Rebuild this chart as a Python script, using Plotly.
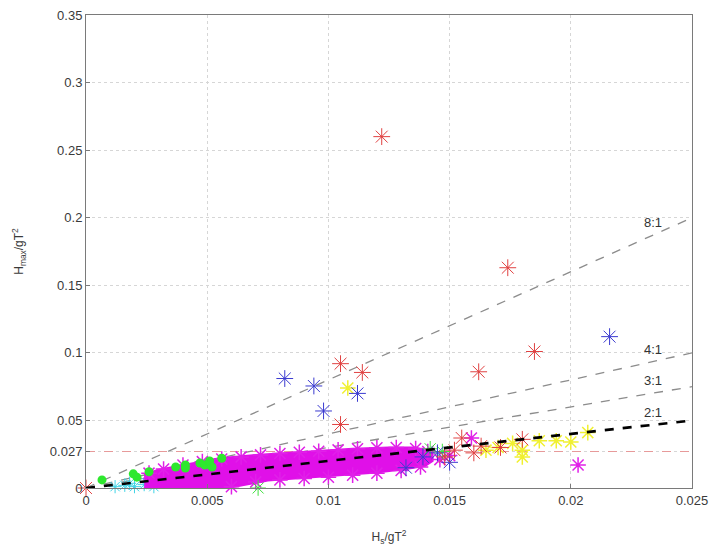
import plotly.graph_objects as go

# ---------------- data ----------------
ratio_names = ["8:1", "4:1", "3:1", "2:1"]
ratio_values = [8, 4, 3, 2]
x_end = 0.025
threshold = 0.027

# dense magenta cloud outline (Hs/gT2, Hmax/gT2)
cloud_x = [0.0024, 0.0040, 0.0060, 0.0075, 0.0090, 0.0105, 0.0120, 0.0132, 0.0140, 0.0143,
           0.0143, 0.0136, 0.0125, 0.0110, 0.0095, 0.0085, 0.0070, 0.0055, 0.0040, 0.0030, 0.0024]
cloud_y = [0.0000, 0.0000, 0.0005, 0.0055, 0.0075, 0.0090, 0.0115, 0.0140, 0.0165, 0.0200,
           0.0260, 0.0300, 0.0300, 0.0290, 0.0275, 0.0265, 0.0245, 0.0220, 0.0170, 0.0135, 0.0100]

# fuzzy magenta asterisks around the cloud edge
mag_x = [0.0026, 0.0032, 0.0040, 0.0048, 0.0056, 0.0064, 0.0072, 0.0080, 0.0088, 0.0096, 0.0104,
         0.0112, 0.0120, 0.0128, 0.0136, 0.0141, 0.0060, 0.0070, 0.0080, 0.0090, 0.0100, 0.0110,
         0.0120, 0.0130, 0.0138, 0.0159, 0.0203, 0.0150, 0.0146]
mag_y = [0.0110, 0.0140, 0.0170, 0.0195, 0.0215, 0.0230, 0.0245, 0.0255, 0.0265, 0.0272, 0.0282,
         0.0290, 0.0297, 0.0300, 0.0292, 0.0270, 0.0010, 0.0045, 0.0060, 0.0070, 0.0080, 0.0095,
         0.0110, 0.0130, 0.0155, 0.0370, 0.0170, 0.0240, 0.0210]

green_pts_x = [0.00066, 0.00195, 0.0021, 0.0026, 0.0037, 0.0041, 0.0041, 0.0047, 0.0049, 0.0051, 0.0052, 0.0056]
green_pts_y = [0.0060, 0.0105, 0.0080, 0.0120, 0.0155, 0.0170, 0.0148, 0.0185, 0.0170, 0.0200, 0.0155, 0.0220]

cyan_x = [0.0012, 0.0016, 0.0020, 0.0024, 0.0028, 0.0018, 0.0025]
cyan_y = [0.0010, 0.0020, 0.0010, 0.0025, 0.0010, 0.0035, 0.0040]

red_x = [0.0122, 0.0174, 0.0185, 0.0162, 0.0105, 0.0114, 0.0105, 0.0155, 0.0180, 0.0171, 0.0160,
         0.0152, 0.0148, 0.0163, 0.0000]
red_y = [0.2600, 0.1630, 0.1010, 0.0860, 0.0920, 0.0855, 0.0470, 0.0370, 0.0360, 0.0300, 0.0260,
         0.0280, 0.0230, 0.0310, 0.0000]

blue_x = [0.0216, 0.0082, 0.0094, 0.0112, 0.0098, 0.0132, 0.0150, 0.0145, 0.0139]
blue_y = [0.1120, 0.0810, 0.0755, 0.0700, 0.0570, 0.0150, 0.0190, 0.0260, 0.0230]

yellow_x = [0.0108, 0.0165, 0.0170, 0.0180, 0.0180, 0.0187, 0.0194, 0.0200, 0.0207, 0.0176]
yellow_y = [0.0740, 0.0280, 0.0300, 0.0280, 0.0230, 0.0350, 0.0350, 0.0340, 0.0410, 0.0330]

green_star_x = [0.0071, 0.0142, 0.0147]
green_star_y = [0.0000, 0.0290, 0.0270]

x_ticks = [0, 0.005, 0.01, 0.015, 0.02, 0.025]
x_ticktext = ["0", "0.005", "0.01", "0.015", "0.02", "0.025"]
y_ticks = [0, 0.027, 0.05, 0.1, 0.15, 0.2, 0.25, 0.3, 0.35]
y_ticktext = ["0", "0.027", "0.05", "0.1", "0.15", "0.2", "0.25", "0.3", "0.35"]

# ---------------- figure ----------------
fig = go.Figure()

# threshold line
fig.add_trace(go.Scatter(x=[0, x_end], y=[threshold, threshold], mode="lines",
                         line=dict(color="#e79a9a", width=1, dash="dash"), hoverinfo="skip"))

# ratio lines (grey dashed, except 2:1)
for name, r in zip(ratio_names, ratio_values):
    if r == 2:
        continue
    fig.add_trace(go.Scatter(x=[0, x_end], y=[0, r * x_end], mode="lines",
                             line=dict(color="#8c8c8c", width=1.3, dash="dash"), hoverinfo="skip"))

def stars(xs, ys, color, size=13, width=1):
    return go.Scatter(x=xs, y=ys, mode="markers", cliponaxis=False,
                      marker=dict(symbol="asterisk-open", size=size, color=color,
                                  line=dict(color=color, width=width)), hoverinfo="skip")

fig.add_trace(stars(cyan_x, cyan_y, "#3fd4e6", 11))
fig.add_trace(go.Scatter(x=cloud_x, y=cloud_y, mode="lines", fill="toself",
                         fillcolor="#e010e8", line=dict(color="#e010e8", width=2), hoverinfo="skip"))
fig.add_trace(stars(mag_x, mag_y, "#e020e8", 13, 1.5))
fig.add_trace(stars(green_star_x, green_star_y, "#40e040", 13))
fig.add_trace(stars(yellow_x, yellow_y, "#f0f030", 13, 1.5))
fig.add_trace(stars(blue_x, blue_y, "#3a3ad0", 14))
fig.add_trace(stars(red_x, red_y, "#e04040", 14))
fig.add_trace(go.Scatter(x=green_pts_x, y=green_pts_y, mode="markers", cliponaxis=False,
                         marker=dict(symbol="circle", size=9, color="#2ee82e"), hoverinfo="skip"))

# 2:1 line black thick dashed
fig.add_trace(go.Scatter(x=[0, x_end], y=[0, 2 * x_end], mode="lines",
                         line=dict(color="black", width=2.6, dash="dash"), hoverinfo="skip"))

# ratio labels
for name, r in zip(ratio_names, ratio_values):
    fig.add_annotation(x=0.0234, y=r * 0.0234, text=name, showarrow=False,
                       xanchor="center", yanchor="bottom", yshift=3,
                       font=dict(size=13, color="#333333", family="Liberation Sans, Arial"))

fig.update_layout(
    width=710, height=546,
    margin=dict(l=86, r=18, t=15, b=58),
    paper_bgcolor="white", plot_bgcolor="white",
    showlegend=False,
    font=dict(family="Liberation Sans, Arial, sans-serif", size=13, color="#3a3a3a"),
)
fig.update_xaxes(range=[0, 0.025], tickvals=x_ticks, ticktext=x_ticktext, automargin=False,
                 ticklabeloverflow="allow",
                 showline=True, mirror=True, linecolor="#7a7a7a", linewidth=1,
                 ticks="inside", ticklen=4, tickcolor="#7a7a7a",
                 showgrid=True, gridcolor="#d6d6d6", griddash="dot", gridwidth=1,
                 zeroline=False,
                 title=dict(text="H<sub>s</sub>/gT<sup>2</sup>", font=dict(size=12), standoff=26))
fig.update_yaxes(range=[0, 0.35], tickvals=y_ticks, ticktext=y_ticktext, automargin=False,
                 ticklabeloverflow="allow",
                 showline=True, mirror=True, linecolor="#7a7a7a", linewidth=1,
                 ticks="inside", ticklen=4, tickcolor="#7a7a7a",
                 showgrid=True, gridcolor="#d6d6d6", griddash="dot", gridwidth=1,
                 zeroline=False,
                 title=dict(text="H<sub>max</sub>/gT<sup>2</sup>", font=dict(size=12), standoff=23))

# remove the default page margin so the 710x546 figure fills the window exactly
fig.write_html("out.html",
               config={"displayModeBar": False},
               post_script="document.body.style.margin='0px';"
                           "document.documentElement.style.overflow='hidden';")
